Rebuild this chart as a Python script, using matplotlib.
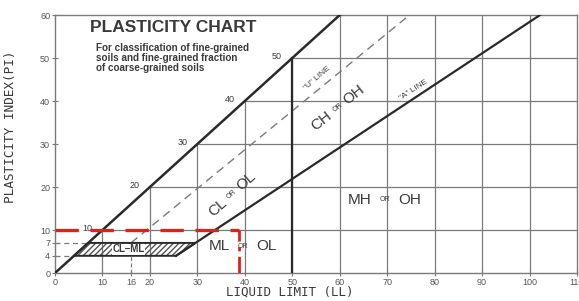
import numpy as np
import matplotlib.pyplot as plt
from matplotlib.patches import Polygon

# axis values
ll_ticks = [0, 10, 16, 20, 30, 40, 50, 60, 70, 80, 90, 100, 110]
pi_ticks = [0, 4, 7, 10, 20, 30, 40, 50, 60]
grid_ll = [10, 20, 30, 40, 50, 60, 70, 80, 90, 100]
grid_pi = [10, 20, 30, 40, 50]
diag_labels = [10, 20, 30, 40, 50]

# boundary lines
diag_ll = [0, 60]
diag_pi = [0, 60]
a_line_ll = [25.5, 102.2]
a_line_pi = [4, 60]
u_line_ll = [16, 74.7]
u_line_pi = [7, 60]
ll50_ll = [50, 50]
ll50_pi = [0, 50]

# CL-ML zone
clml_ll = [4, 25.5, 29.6, 7]
clml_pi = [4, 4, 7, 7]

# sample point (red)
sample_ll = 38.8
sample_pi = 10

ink = '#2a2a2a'
gridc = '#7a7a7a'
txt = '#3a3a3a'
red = '#e0201c'

plt.rcParams['font.family'] = ['Liberation Sans', 'DejaVu Sans']

fig = plt.figure(figsize=(5.79, 3.01), dpi=100)
ax = fig.add_axes([0.095, 0.093, 0.9015, 0.857])
ax.set_xlim(0, 110)
ax.set_ylim(0, 60)


def zone_label(x, y, a, b, rot=0, gap=13):
    # big "a", small "OR", big "b" spaced along the rotation
    c, s = np.cos(np.radians(rot)), np.sin(np.radians(rot))
    for word, size, d in [(a, 11, -gap), ('OR', 5, 0), (b, 11, gap)]:
        ax.annotate(word, (x, y), xytext=(d * c, d * s), textcoords='offset points',
                    fontsize=size, color=txt, rotation=rot, ha='center', va='center',
                    rotation_mode='anchor')


# grid only below the PI = LL line
for x in grid_ll:
    ax.plot([x, x], [0, min(x, 60)], color=gridc, lw=0.9, zorder=1)
for y in grid_pi:
    ax.plot([y, 110], [y, y], color=gridc, lw=0.9, zorder=1)

# main lines
ax.plot(diag_ll, diag_pi, color=ink, lw=1.8, zorder=3)
ax.plot(a_line_ll, a_line_pi, color=ink, lw=1.6, zorder=3)
ax.plot(ll50_ll, ll50_pi, color=ink, lw=1.6, zorder=3)
ax.plot(u_line_ll, u_line_pi, color=gridc, lw=1.0, ls=(0, (6, 4)), zorder=2)

# CL-ML hatched zone
zone = Polygon(list(zip(clml_ll, clml_pi)), closed=True, facecolor='none',
               edgecolor='#555555', hatch='//////', lw=0, zorder=2)
ax.add_patch(zone)
ax.add_patch(Polygon(list(zip(clml_ll, clml_pi)), closed=True, facecolor='none',
                     edgecolor=ink, lw=1.4, zorder=3))
ax.plot([0, clml_ll[3]], [clml_pi[3], clml_pi[3]], color=gridc, lw=0.9, ls=(0, (4, 3)))
ax.plot([0, clml_ll[0]], [clml_pi[0], clml_pi[0]], color=gridc, lw=0.9, ls=(0, (4, 3)))
ax.plot([16, 16], [0, 4], color=gridc, lw=0.9, ls=(0, (3, 2)))
ax.text(15.5, 5.5, 'CL–ML', fontsize=7, fontweight='bold', color=txt,
        ha='center', va='center', zorder=4,
        bbox=dict(facecolor='white', edgecolor='none', pad=0.2))

# red sample lines
ax.plot([0, sample_ll], [sample_pi, sample_pi], color=red, lw=2.4,
        ls=(0, (7, 3.5)), zorder=5)
ax.plot([sample_ll, sample_ll], [0, sample_pi], color=red, lw=2.0,
        ls=(0, (6, 2, 1.5, 2)), zorder=5)

# labels on the diagonal
for v in diag_labels:
    ax.text(v - 3.2, v + 0.3, str(v), fontsize=6.5, color=txt, ha='center', va='center')

# titles
ax.text(7.4, 57, 'PLASTICITY CHART', fontsize=12.5, fontweight='bold', color=txt,
        ha='left', va='center')
ax.text(8.6, 53.6, 'For classification of fine-grained\nsoils and fine-grained fraction\nof coarse-grained soils',
        fontsize=7.1, fontweight='bold', color=txt, ha='left', va='top', linespacing=1.05)

# zone labels
zone_label(37.3, 18.3, 'CL', 'OL', rot=42, gap=14)
zone_label(59.6, 38.4, 'CH', 'OH', rot=38, gap=15)
zone_label(69.5, 17, 'MH', 'OH', gap=18)
zone_label(39.6, 6.2, 'ML', 'OL', gap=17)
ax.text(55.2, 45.2, '"U" LINE', fontsize=6, color=txt, rotation=41, ha='center', va='center')
ax.text(75.6, 42.6, '"A" LINE', fontsize=6, color=txt, rotation=33, ha='center', va='center')

# axes styling
ax.set_xticks(ll_ticks)
ax.set_yticks(pi_ticks)
ax.tick_params(direction='inout', length=4, width=0.8, colors=gridc,
               labelsize=6.5, labelcolor='#555555', pad=1.5)
for s in ax.spines.values():
    s.set_color(gridc)
    s.set_linewidth(1.0)

fig.text(0.5, 0.008, 'LIQUID LIMIT (LL)', fontsize=9, family='DejaVu Sans Mono',
         color=txt, ha='center', va='bottom')
fig.text(0.018, 0.58, 'PLASTICITY INDEX(PI)', fontsize=9.2, family='DejaVu Sans Mono',
         color=txt, rotation=90, ha='center', va='center')

fig.savefig('out.png', dpi=100)
